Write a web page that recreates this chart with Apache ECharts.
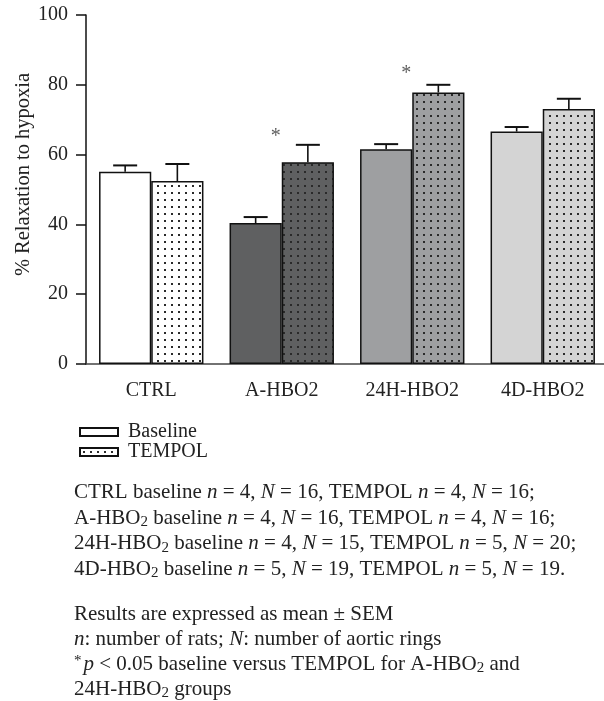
<!DOCTYPE html>
<html>
<head>
<meta charset="utf-8">
<script src="https://cdn.jsdelivr.net/npm/echarts@6/dist/echarts.min.js"></script>
<style>
  html, body { margin: 0; padding: 0; background: #fff; }
  #main { width: 604px; height: 701px; }
</style>
</head>
<body>
<div id="main"></div>
<script>
var categories = ['CTRL', 'A-HBO2', '24H-HBO2', '4D-HBO2'];
var baselineMean = [55.1, 40.4, 61.5, 66.6];
var baselineSem = [1.8, 1.7, 1.5, 1.3];
var tempolMean = [52.4, 57.8, 77.8, 73.1];
var tempolSem = [4.9, 5.0, 2.2, 2.9];
// groups marked with * (p < 0.05) and the height of the star
var sigGroups = [1, 2];
var sigLevel = [66.2, 84.2];
var yTicks = [0, 20, 40, 60, 80, 100];

var groupColors = ['#ffffff', '#5f6061', '#9e9fa1', '#d4d4d4'];
var serif = '"Liberation Serif", "Times New Roman", serif';

function dots(bg) {
    var c = document.createElement('canvas');
    c.width = 7; c.height = 7;
    var g = c.getContext('2d');
    g.fillStyle = bg;
    g.fillRect(0, 0, 7, 7);
    g.fillStyle = '#2a2a2a';
    g.fillRect(3, 3, 2, 2);
    return { image: c, repeat: 'repeat' };
}

function errData(means, sems) {
    return means.map(function (m, i) { return [i, m, sems[i]]; });
}

function errRender(side) {
    return function (params, api) {
        var i = api.value(0), m = api.value(1), s = api.value(2);
        var band = api.size([1, 0])[0];
        var dx = side * band * 0.2;
        var p0 = api.coord([i, m]);
        var p1 = api.coord([i, m + s]);
        var x = p0[0] + dx;
        return {
            type: 'group',
            children: [
                { type: 'line', shape: { x1: x, y1: p0[1], x2: x, y2: p1[1] }, style: { stroke: '#111', lineWidth: 1.6 } },
                { type: 'line', shape: { x1: x - 12, y1: p1[1], x2: x + 12, y2: p1[1] }, style: { stroke: '#111', lineWidth: 2 } }
            ]
        };
    };
}

var myChart = echarts.init(document.getElementById('main'));
var option = {
    backgroundColor: '#fff',
    animation: false,
    textStyle: { fontFamily: serif },
    grid: { left: 86, top: 15, width: 522, bottom: 337, containLabel: false, outerBoundsMode: 'none' },
    legend: {
        data: ['Baseline', 'TEMPOL'],
        orient: 'vertical',
        left: 74,
        top: 417,
        icon: 'rect',
        itemWidth: 38,
        itemHeight: 8,
        itemGap: 0,
        textStyle: { fontFamily: serif, fontSize: 20, color: '#222', lineHeight: 18, padding: [0, 0, 0, 5] }
    },
    xAxis: {
        type: 'category',
        data: categories,
        axisTick: { show: false },
        axisLine: { lineStyle: { color: '#444', width: 1.5 } },
        axisLabel: { fontFamily: serif, fontSize: 20, color: '#222', margin: 17 }
    },
    yAxis: {
        type: 'value',
        min: 0,
        max: 100,
        interval: 20,
        name: '% Relaxation to hypoxia',
        nameLocation: 'middle',
        nameGap: 52,
        nameMoveOverlap: false,
        nameTextStyle: { fontFamily: serif, fontSize: 20.5, color: '#222', padding: [0, 0, 0, 30] },
        splitLine: { show: false },
        axisLine: { show: true, lineStyle: { color: '#111', width: 1.5 } },
        axisTick: { show: true, length: 10, lineStyle: { color: '#111', width: 1.5 } },
        axisLabel: {
            fontFamily: serif, fontSize: 20, color: '#222', margin: 18,
            formatter: function (v) { return yTicks.indexOf(v) >= 0 ? String(v) : ''; }
        }
    },
    series: [
        {
            name: 'Baseline',
            type: 'bar',
            barGap: '0%',
            barCategoryGap: '20%',
            itemStyle: { color: '#fff', borderColor: '#111', borderWidth: 1.5 },
            data: baselineMean.map(function (v, i) {
                return { value: v, itemStyle: { color: groupColors[i] } };
            })
        },
        {
            name: 'TEMPOL',
            type: 'bar',
            barGap: '0%',
            barCategoryGap: '20%',
            itemStyle: { color: dots('#ffffff'), borderColor: '#111', borderWidth: 1.5 },
            data: tempolMean.map(function (v, i) {
                return { value: v, itemStyle: { color: dots(groupColors[i]) } };
            })
        },
        {
            type: 'custom',
            renderItem: errRender(-1),
            data: errData(baselineMean, baselineSem),
            z: 5
        },
        {
            type: 'custom',
            renderItem: errRender(1),
            data: errData(tempolMean, tempolSem),
            z: 5
        },
        {
            type: 'scatter',
            symbolSize: 0,
            data: sigGroups.map(function (g, i) { return [g, sigLevel[i]]; }),
            label: {
                show: true,
                position: 'inside',
                offset: [-6, 4],
                formatter: '*',
                fontFamily: serif,
                fontSize: 20,
                color: '#333'
            }
        }
    ],
    graphic: [
        {
            type: 'text',
            left: 74,
            top: 480,
            style: {
                text: [
                    'CTRL baseline {i|n} = 4, {i|N} = 16, TEMPOL {i|n} = 4, {i|N} = 16;',
                    'A-HBO{s|2} baseline {i|n} = 4, {i|N} = 16, TEMPOL {i|n} = 4, {i|N} = 16;',
                    '24H-HBO{s|2} baseline {i|n} = 4, {i|N} = 15, TEMPOL {i|n} = 5, {i|N} = 20;',
                    '4D-HBO{s|2} baseline {i|n} = 5, {i|N} = 19, TEMPOL {i|n} = 5, {i|N} = 19.'
                ].join('\n'),
                fontFamily: serif,
                fontSize: 21,
                lineHeight: 25.5,
                fill: '#222',
                rich: {
                    i: { fontFamily: serif, fontSize: 21, fontStyle: 'italic', lineHeight: 25.5, fill: '#222' },
                    s: { fontFamily: serif, fontSize: 15, lineHeight: 25.5, padding: [8, 0, 0, 0], fill: '#222' }
                }
            }
        },
        {
            type: 'text',
            left: 74,
            top: 602,
            style: {
                text: [
                    'Results are expressed as mean \u00b1 SEM',
                    '{i|n}: number of rats; {i|N}: number of aortic rings',
                    '{u|*}{i|p} < 0.05 baseline versus TEMPOL for A-HBO{s|2} and',
                    '24H-HBO{s|2} groups'
                ].join('\n'),
                fontFamily: serif,
                fontSize: 21,
                lineHeight: 25,
                fill: '#222',
                rich: {
                    i: { fontFamily: serif, fontSize: 21, fontStyle: 'italic', lineHeight: 25, fill: '#222' },
                    s: { fontFamily: serif, fontSize: 15, lineHeight: 25, padding: [8, 0, 0, 0], fill: '#222' },
                    u: { fontFamily: serif, fontSize: 15, lineHeight: 25, padding: [0, 2, 6, 0], fill: '#222' }
                }
            }
        }
    ]
};
myChart.setOption(option);
</script>
</body>
</html>
